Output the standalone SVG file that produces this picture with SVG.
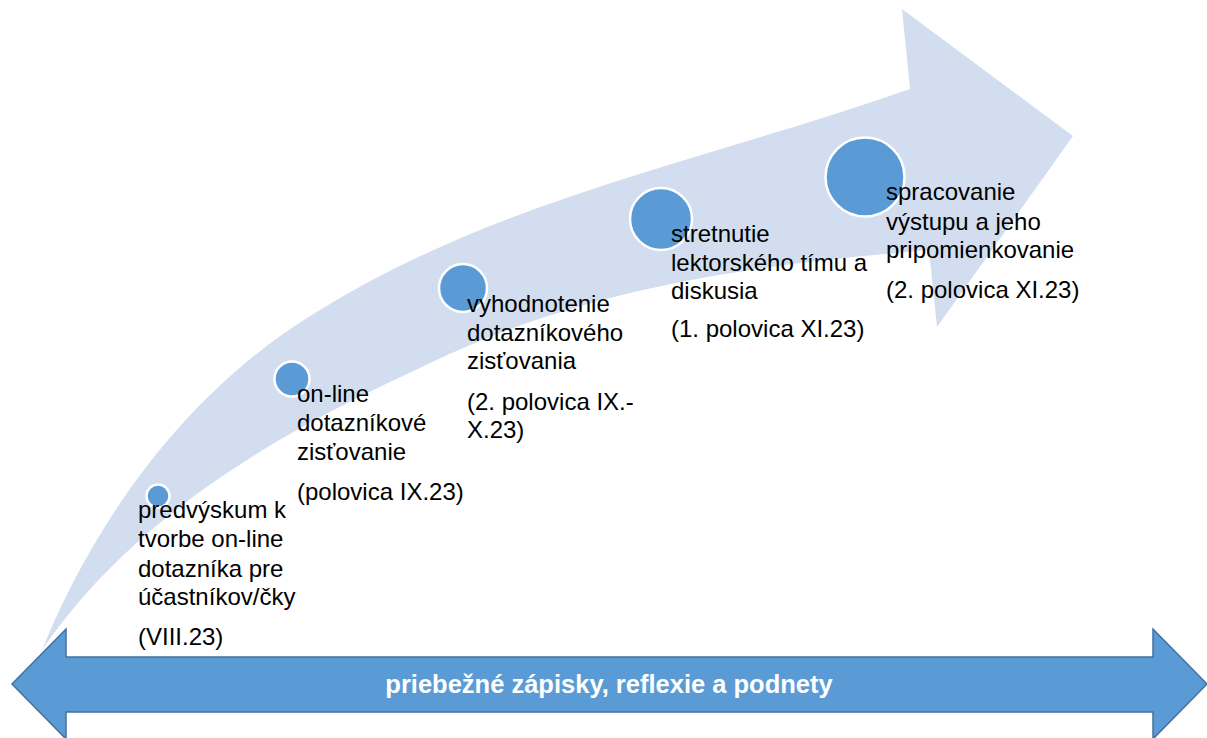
<svg xmlns="http://www.w3.org/2000/svg" width="1207" height="738" viewBox="0 0 1207 738">
<style>
.lbl{font-family:"Liberation Sans",Arial,sans-serif;font-size:24px;fill:#000}
.dot{fill:#5B9BD5;stroke:#FFFFFF;stroke-width:2.5}
.band{font-family:"Liberation Sans",Arial,sans-serif;font-size:25.5px;font-weight:bold;fill:#FFFFFF}
</style>
<rect width="1207" height="738" fill="#FFFFFF"/>
<g id="big-arrow">
<path d="M42,650 C99,510 195,384 320,310 C501,198 715,158 910,89 L902,9 L1073,136 L937,327 L929,250 C755,265 585,286 420,368 C279,432 134,516 42,650 Z" fill="#D2DEEF"/>
</g>
<g id="connectors">
<path id="band-arrow" d="M12,684 L66,629 L66,657 L1153,657 L1153,629 L1207,684 L1153,739 L1153,712 L66,712 L66,739 Z" fill="#5B9BD5" stroke="#41719C" stroke-width="1.5"/>
<text class="band" x="609" y="693" text-anchor="middle">priebežné zápisky, reflexie a podnety</text>
</g>
<g id="step1">
<circle class="dot" cx="158" cy="496" r="11.5"/>
<text class="lbl"><tspan x="138" y="518">predvýskum k</tspan><tspan x="138" y="547">tvorbe on-line</tspan><tspan x="138" y="577">dotazníka pre</tspan><tspan x="138" y="605">účastníkov/čky</tspan><tspan x="138" y="645">(VIII.23)</tspan></text>
</g>
<g id="step2">
<circle class="dot" cx="292" cy="379" r="17.5"/>
<text class="lbl"><tspan x="297" y="402">on-line</tspan><tspan x="297" y="431">dotazníkové</tspan><tspan x="297" y="460">zisťovanie</tspan><tspan x="297" y="500">(polovica IX.23)</tspan></text>
</g>
<g id="step3">
<circle class="dot" cx="463" cy="288" r="24"/>
<text class="lbl"><tspan x="467" y="312">vyhodnotenie</tspan><tspan x="467" y="341">dotazníkového</tspan><tspan x="467" y="369">zisťovania</tspan><tspan x="467" y="410">(2. polovica IX.-</tspan><tspan x="467" y="438">X.23)</tspan></text>
</g>
<g id="step4">
<circle class="dot" cx="661" cy="219" r="31"/>
<text class="lbl"><tspan x="671" y="242">stretnutie</tspan><tspan x="671" y="271">lektorského tímu a</tspan><tspan x="671" y="299">diskusia</tspan><tspan x="671" y="337">(1. polovica XI.23)</tspan></text>
</g>
<g id="step5">
<circle class="dot" cx="865" cy="177" r="39.5"/>
<text class="lbl"><tspan x="886" y="200">spracovanie</tspan><tspan x="886" y="230">výstupu a jeho</tspan><tspan x="886" y="258">pripomienkovanie</tspan><tspan x="886" y="298">(2. polovica XI.23)</tspan></text>
</g>
</svg>
